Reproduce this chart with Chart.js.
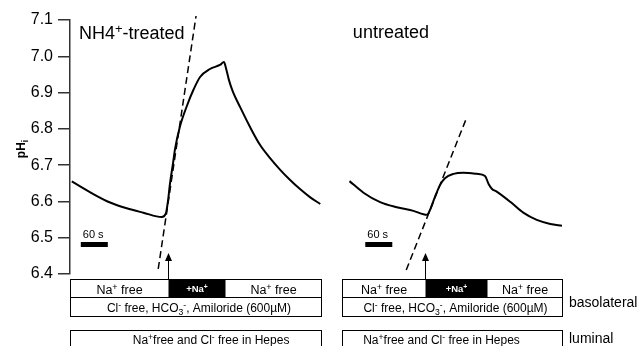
<!DOCTYPE html>
<html>
<head>
<meta charset="utf-8">
<script src="https://cdn.jsdelivr.net/npm/chart.js"></script>
<style>
  html, body { margin: 0; padding: 0; background: #fff; }
  canvas { display: block; }
</style>
</head>
<body>
<canvas id="phChart" width="643" height="346"></canvas>
<script>
// time in seconds, pHi
const leftTime = [4, 51, 89, 126, 163, 204, 213, 218, 222, 229, 233, 244, 259, 274, 289, 311, 333, 342, 347, 353, 362, 378, 400, 422, 444, 467, 489, 511, 533, 556];
const leftPH = [6.655, 6.621, 6.597, 6.581, 6.569, 6.557, 6.567, 6.604, 6.648, 6.706, 6.742, 6.805, 6.861, 6.907, 6.943, 6.965, 6.976, 6.984, 6.965, 6.935, 6.902, 6.860, 6.805, 6.756, 6.720, 6.687, 6.659, 6.634, 6.612, 6.593];
const rightTime = [621, 652, 689, 726, 763, 793, 800, 811, 822, 833, 852, 874, 904, 922, 930, 937, 948, 978, 1007, 1037, 1067, 1093];
const rightPH = [6.656, 6.624, 6.598, 6.584, 6.574, 6.563, 6.577, 6.613, 6.645, 6.664, 6.676, 6.679, 6.676, 6.670, 6.648, 6.635, 6.627, 6.599, 6.569, 6.549, 6.538, 6.533];

// initial-rate tangents (dashed)
const leftFitTime = [196, 280];
const leftFitPH = [6.414, 7.111];
const rightFitTime = [747, 880];
const rightFitPH = [6.411, 6.827];

// protocol: box start, Na+ added, Na+ removed, box end (s)
const leftProtocol = [0, 218, 344, 558];
const rightProtocol = [604, 789, 927, 1093];

const scaleBarStart = [24, 656];
const scaleBarLength = 60;
const yTicks = [6.4, 6.5, 6.6, 6.7, 6.8, 6.9, 7.0, 7.1];
const panelTitles = ['NH4+-treated', 'untreated'];

const FONT = '"Liberation Sans", Arial, sans-serif';

function pts(xs, ys) {
  return xs.map((x, i) => ({ x: x, y: ys[i] }));
}

// draws text made of [text, 'sup'|'sub'|''] parts
function rich(ctx, parts, x, y, size, align, weight) {
  const w = weight || '';
  let total = 0;
  parts.forEach(p => {
    const s = p[1] ? size * 0.72 : size;
    ctx.font = w + ' ' + s + 'px ' + FONT;
    total += ctx.measureText(p[0]).width;
  });
  let cx = align === 'center' ? x - total / 2 : x;
  ctx.textAlign = 'left';
  ctx.textBaseline = 'alphabetic';
  parts.forEach(p => {
    const s = p[1] ? size * 0.72 : size;
    ctx.font = w + ' ' + s + 'px ' + FONT;
    let dy = 0;
    if (p[1] === 'sup') dy = -size * 0.36;
    if (p[1] === 'sub') dy = size * 0.25;
    ctx.fillText(p[0], cx, y + dy);
    cx += ctx.measureText(p[0]).width;
  });
}

const overlay = {
  id: 'overlay',
  afterDraw(chart) {
    const ctx = chart.ctx;
    const xs = chart.scales.x;
    const area = chart.chartArea;
    ctx.save();
    ctx.fillStyle = '#000';
    ctx.strokeStyle = '#000';

    // y axis title
    ctx.save();
    ctx.translate(25, 149);
    ctx.rotate(-Math.PI / 2);
    rich(ctx, [['pH', ''], ['i', 'sub']], 0, 0, 12, 'center', 'bold');
    ctx.restore();

    // panel titles
    rich(ctx, [['NH4', ''], ['+', 'sup'], ['-treated', '']], xs.getPixelForValue(leftProtocol[0]) + 9, 39, 18, 'left');
    rich(ctx, [[panelTitles[1], '']], xs.getPixelForValue(rightProtocol[0]) + 11, 38, 18, 'left');

    // 60 s scale bars
    scaleBarStart.forEach(t => {
      const a = xs.getPixelForValue(t);
      const b = xs.getPixelForValue(t + scaleBarLength);
      ctx.fillRect(a, area.bottom - 32, b - a, 5);
      rich(ctx, [['60 s', '']], a + 2, area.bottom - 36, 11, 'left');
    });

    const rowTop = area.bottom + 5;
    const rowMid = area.bottom + 23;
    const rowBot = area.bottom + 42;
    const lumTop = area.bottom + 56;

    [leftProtocol, rightProtocol].forEach((p, k) => {
      const x0 = Math.round(xs.getPixelForValue(p[0])) + 0.5;
      const x1 = Math.round(xs.getPixelForValue(p[1])) + 0.5;
      const x2 = Math.round(xs.getPixelForValue(p[2])) + 0.5;
      const x3 = Math.round(xs.getPixelForValue(p[3])) + 0.5;

      ctx.fillStyle = '#000';
      ctx.fillRect(x1, rowTop, x2 - x1, rowMid - rowTop);
      ctx.lineWidth = 1;
      ctx.strokeRect(x0, rowTop + 0.5, x3 - x0, rowMid - rowTop);
      ctx.strokeRect(x0, rowMid + 0.5, x3 - x0, rowBot - rowMid);
      ctx.strokeRect(x0, lumTop + 0.5, x3 - x0, 40);

      // arrow at Na+ addition
      ctx.beginPath();
      ctx.moveTo(x1, rowTop);
      ctx.lineTo(x1, area.bottom - 16);
      ctx.stroke();
      ctx.beginPath();
      ctx.moveTo(x1, area.bottom - 21);
      ctx.lineTo(x1 - 3.5, area.bottom - 13);
      ctx.lineTo(x1 + 3.5, area.bottom - 13);
      ctx.closePath();
      ctx.fill();

      const na = [['Na', ''], ['+', 'sup'], [' free', '']];
      rich(ctx, na, (x0 + x1) / 2, rowTop + 15, 12.5, 'center');
      rich(ctx, na, (x2 + x3) / 2, rowTop + 15, 12.5, 'center');
      ctx.fillStyle = '#fff';
      rich(ctx, [['+Na', ''], ['+', 'sup']], (x1 + x2) / 2, rowTop + 13, 9.5, 'center', 'bold');
      ctx.fillStyle = '#000';
      rich(ctx, [['Cl', ''], ['-', 'sup'], [' free, HCO', ''], ['3', 'sub'], ['-', 'sup'], [', Amiloride (600µM)', '']],
        (x0 + x3) / 2 + 3, rowMid + 15, 12, 'center');
      const lumC = k === 0 ? x0 + (x3 - x0) * 0.56 : x0 + (x3 - x0) * 0.45;
      rich(ctx, [['Na', ''], ['+', 'sup'], ['free and Cl', ''], ['-', 'sup'], [' free in Hepes', '']], lumC, lumTop + 14, 12, 'center');
    });

    const labX = xs.getPixelForValue(rightProtocol[3]) + 7;
    rich(ctx, [['basolateral', '']], labX, rowTop + 28, 14, 'left');
    rich(ctx, [['luminal', '']], labX, lumTop + 13, 14, 'left');
    ctx.restore();
  }
};

const traceStyle = {
  borderColor: '#000',
  borderWidth: 2,
  pointRadius: 0,
  fill: false,
  cubicInterpolationMode: 'monotone'
};
const fitStyle = {
  borderColor: '#000',
  borderWidth: 1.5,
  borderDash: [7, 4],
  pointRadius: 0,
  fill: false,
  clip: false
};

new Chart(document.getElementById('phChart').getContext('2d'), {
  type: 'line',
  data: {
    datasets: [
      Object.assign({ label: panelTitles[0], data: pts(leftTime, leftPH) }, traceStyle),
      Object.assign({ label: panelTitles[1], data: pts(rightTime, rightPH) }, traceStyle),
      Object.assign({ label: 'fit left', data: pts(leftFitTime, leftFitPH) }, fitStyle),
      Object.assign({ label: 'fit right', data: pts(rightFitTime, rightFitPH) }, fitStyle)
    ]
  },
  options: {
    responsive: false,
    animation: false,
    devicePixelRatio: 1,
    layout: { padding: { left: 0, top: 20, right: 0, bottom: 72 } },
    plugins: {
      legend: { display: false },
      tooltip: { enabled: false }
    },
    scales: {
      x: {
        type: 'linear',
        display: false,
        min: 0,
        max: 1273
      },
      y: {
        min: 6.4,
        max: 7.1,
        afterFit: s => { s.width = 70; },
        afterBuildTicks: s => { s.ticks = yTicks.map(v => ({ value: v })); },
        border: { display: true, color: '#333', width: 1.5 },
        grid: { drawOnChartArea: false, drawTicks: true, tickLength: 12, color: '#333', lineWidth: 1.5 },
        ticks: {
          padding: 5,
          color: '#000',
          font: { family: FONT, size: 16 },
          callback: v => Number(v).toFixed(1)
        }
      }
    }
  },
  plugins: [overlay]
});
</script>
</body>
</html>
